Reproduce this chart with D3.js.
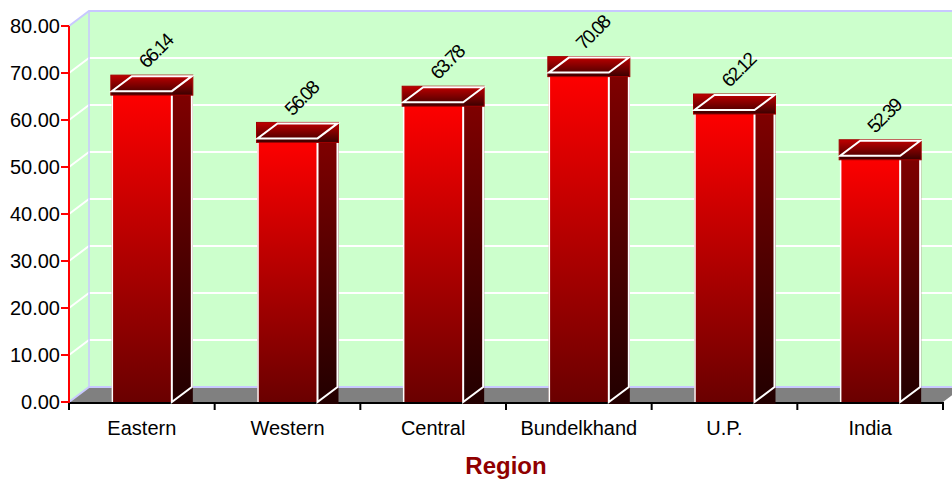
<!DOCTYPE html>
<html>
<head>
<meta charset="utf-8">
<script src="https://cdn.jsdelivr.net/npm/d3@7"></script>
<style>
    body { margin: 0; background: #fff; }
    text { font-family: Arial, "Liberation Sans", sans-serif; }
</style>
</head>
<body>
<div id="chart"></div>
<script>
    // data
    var regions = ["Eastern", "Western", "Central", "Bundelkhand", "U.P.", "India"];
    var values = [66.14, 56.08, 63.78, 70.08, 62.12, 52.39];
    var yTicks = [0, 10, 20, 30, 40, 50, 60, 70, 80];

    var width = 952, height = 479;
    var plotLeft = 69, plotRight = 943, plotTop = 26, plotBottom = 402;
    var depthX = 20, depthY = 15;

    var svg = d3.select("#chart").append("svg")
        .attr("width", width)
        .attr("height", height);

    var x = d3.scaleBand().domain(regions).range([plotLeft, plotRight]).padding(0);
    var y = d3.scaleLinear().domain([0, 80]).range([plotBottom, plotTop]);

    var defs = svg.append("defs");
    function grad(id, c1, c2) {
        var g = defs.append("linearGradient").attr("id", id)
            .attr("x1", 0).attr("y1", 0).attr("x2", 0).attr("y2", 1);
        g.append("stop").attr("offset", "0%").attr("stop-color", c1);
        g.append("stop").attr("offset", "100%").attr("stop-color", c2);
    }
    grad("frontGrad", "#ff0000", "#6a0000");
    grad("sideGrad", "#800000", "#220000");
    grad("capGrad", "#c00000", "#3a0000");

    // back wall + left wall
    svg.append("polygon")
        .attr("points", [[plotLeft, y(80)], [plotLeft + depthX, y(80) - depthY], [width + 20, y(80) - depthY],
            [width + 20, plotBottom - depthY], [plotLeft + depthX, plotBottom - depthY], [plotLeft, plotBottom]].join(" "))
        .attr("fill", "#ccffcc");

    // grid lines
    var grid = svg.append("g");
    yTicks.filter(function (t) { return t > 0 && t < 80; }).forEach(function (t) {
        grid.append("polyline")
            .attr("points", [[plotLeft, y(t)], [plotLeft + depthX, y(t) - depthY], [width + 20, y(t) - depthY]].join(" "))
            .attr("fill", "none")
            .attr("stroke", "#fff")
            .attr("stroke-width", 2);
    });

    // wall borders
    svg.append("polyline")
        .attr("points", [[plotLeft, y(80)], [plotLeft + depthX, y(80) - depthY], [width + 20, y(80) - depthY]].join(" "))
        .attr("fill", "none").attr("stroke", "#c8c8ff").attr("stroke-width", 2);
    svg.append("line")
        .attr("x1", plotLeft + depthX).attr("y1", y(80) - depthY)
        .attr("x2", plotLeft + depthX).attr("y2", plotBottom - depthY)
        .attr("stroke", "#c8c8ff").attr("stroke-width", 1.5);

    // floor
    svg.append("polygon")
        .attr("points", [[plotLeft, plotBottom], [plotLeft + depthX, plotBottom - depthY],
            [plotRight + depthX, plotBottom - depthY], [plotRight, plotBottom]].join(" "))
        .attr("fill", "#808080");
    svg.append("polyline")
        .attr("points", [[plotLeft, plotBottom], [plotLeft + depthX, plotBottom - depthY], [width + 20, plotBottom - depthY]].join(" "))
        .attr("fill", "none").attr("stroke", "#c8c8ff").attr("stroke-width", 2);

    // x axis
    svg.append("line")
        .attr("x1", plotLeft).attr("x2", plotRight).attr("y1", plotBottom + 1).attr("y2", plotBottom + 1)
        .attr("stroke", "#000").attr("stroke-width", 2);
    var xTicks = regions.map(function (r) { return x(r); }).concat([plotRight]);
    svg.selectAll(".xtick").data(xTicks).enter().append("line")
        .attr("class", "xtick")
        .attr("x1", function (d) { return d; }).attr("x2", function (d) { return d; })
        .attr("y1", plotBottom).attr("y2", plotBottom + 8)
        .attr("stroke", "#000").attr("stroke-width", 2);

    // bars
    var barW = 60;
    var bars = svg.selectAll(".bar").data(regions).enter().append("g").attr("class", "bar");
    bars.each(function (r, i) {
        var g = d3.select(this);
        var cx = x(r) + x.bandwidth() / 2;
        var x0 = cx - barW / 2, x1 = cx + barW / 2;
        var yv = y(values[i]);

        g.append("rect")
            .attr("x", x1).attr("y", yv)
            .attr("width", depthX + 1).attr("height", plotBottom + 2 - yv)
            .attr("fill", "url(#sideGrad)");
        g.append("rect")
            .attr("x", x0).attr("y", yv)
            .attr("width", barW).attr("height", plotBottom - yv)
            .attr("fill", "url(#frontGrad)");
        g.append("line")
            .attr("x1", x0 + 0.5).attr("x2", x0 + 0.5).attr("y1", yv).attr("y2", plotBottom)
            .attr("stroke", "#fff").attr("stroke-width", 1.5);
        g.append("polyline")
            .attr("points", [[x1, yv], [x1, plotBottom], [x1 + depthX, plotBottom - depthY], [x1 + depthX, yv]].join(" "))
            .attr("fill", "none").attr("stroke", "#fff").attr("stroke-width", 2);

        // cap
        g.append("rect")
            .attr("x", x0 - 1).attr("y", yv - depthY - 1)
            .attr("width", barW + depthX + 2).attr("height", depthY + 5)
            .attr("fill", "url(#capGrad)")
            .attr("stroke", "#a00000").attr("stroke-width", 1);
        g.append("polygon")
            .attr("points", [[x0, yv], [x1, yv], [x1 + depthX, yv - depthY], [x0 + depthX, yv - depthY]].join(" "))
            .attr("fill", "none").attr("stroke", "#fff").attr("stroke-width", 2);

        g.append("text")
            .attr("transform", "translate(" + (cx + 14) + "," + (yv - 40) + ") rotate(-45)")
            .attr("text-anchor", "middle")
            .attr("dominant-baseline", "central")
            .attr("font-size", 19)
            .attr("letter-spacing", -1.8)
            .attr("fill", "#000")
            .text(values[i].toFixed(2));
    });

    // y axis (red)
    svg.append("line")
        .attr("x1", plotLeft).attr("x2", plotLeft).attr("y1", plotTop).attr("y2", plotBottom + 1)
        .attr("stroke", "#ff0000").attr("stroke-width", 2);
    var yAxis = svg.append("g");
    yTicks.forEach(function (t) {
        yAxis.append("line")
            .attr("x1", plotLeft - 8).attr("x2", plotLeft).attr("y1", y(t)).attr("y2", y(t))
            .attr("stroke", "#ff0000").attr("stroke-width", 2);
        yAxis.append("text")
            .attr("x", plotLeft - 9).attr("y", y(t))
            .attr("text-anchor", "end")
            .attr("dominant-baseline", "central")
            .attr("font-size", 20)
            .attr("fill", "#000")
            .text(d3.format(".2f")(t));
    });

    // category labels
    svg.selectAll(".xlabel").data(regions).enter().append("text")
        .attr("class", "xlabel")
        .attr("x", function (d) { return x(d) + x.bandwidth() / 2; })
        .attr("y", 435)
        .attr("text-anchor", "middle")
        .attr("font-size", 20)
        .attr("fill", "#000")
        .text(function (d) { return d; });

    svg.append("text")
        .attr("x", (plotLeft + plotRight) / 2)
        .attr("y", 474)
        .attr("text-anchor", "middle")
        .attr("font-size", 24)
        .attr("font-weight", "bold")
        .attr("fill", "#900000")
        .text("Region");
</script>
</body>
</html>
